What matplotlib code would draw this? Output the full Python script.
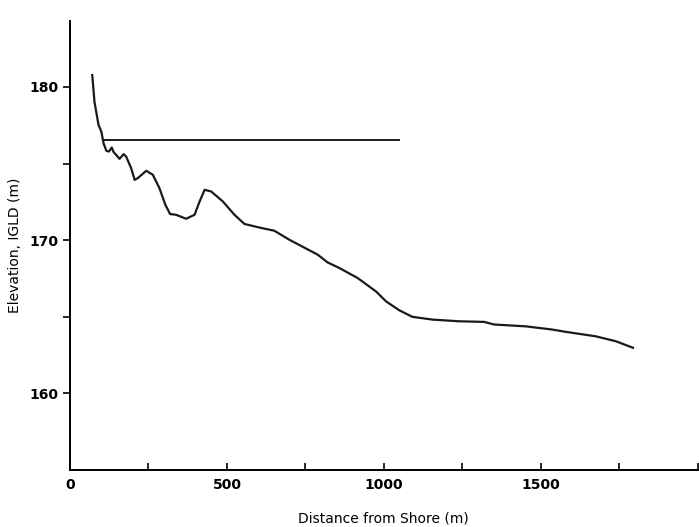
import matplotlib.pyplot as plt

# profile
dist = [71, 78, 91, 100, 107, 116, 124, 133, 139, 147, 158, 171, 179, 195, 206,
        216, 243, 264, 285, 304, 319, 338, 370, 397, 413, 429, 450, 487, 524,
        556, 603, 651, 699, 789, 821, 858, 916, 975, 1007, 1049, 1091, 1155,
        1240, 1320, 1351, 1452, 1537, 1580, 1675, 1739, 1794]
elev = [180.78, 179.04, 177.52, 177.09, 176.33, 175.83, 175.79, 176.05, 175.75,
        175.57, 175.31, 175.62, 175.46, 174.70, 173.94, 174.05, 174.53, 174.27,
        173.40, 172.31, 171.71, 171.66, 171.40, 171.66, 172.53, 173.29, 173.18,
        172.53, 171.66, 171.06, 170.83, 170.62, 170.03, 169.06, 168.55, 168.19,
        167.54, 166.66, 166.01, 165.43, 165.00, 164.82, 164.71, 164.67, 164.50,
        164.38, 164.17, 164.02, 163.73, 163.41, 162.98]

water_x = [110, 1049]
water_y = [176.55, 176.55]

plt.rcParams["font.family"] = ["DejaVu Sans"]

fig = plt.figure(figsize=(6.99, 5.27), dpi=100)
ax = fig.add_axes([0.1001, 0.108, 0.898, 0.852])

ax.plot(dist, elev, color="#1a1a1a", linewidth=1.6)
ax.plot(water_x, water_y, color="#1a1a1a", linewidth=1.4)

ax.set_xlim(0, 2000)
ax.set_ylim(155, 184.3)

ax.spines["top"].set_visible(False)
ax.spines["right"].set_visible(False)
ax.spines["left"].set_linewidth(1.4)
ax.spines["bottom"].set_linewidth(1.4)

ax.set_xticks([0, 500, 1000, 1500])
ax.set_xticks([250, 750, 1250, 1750, 2000], minor=True)
ax.set_yticks([160, 170, 180])
ax.set_yticks([165, 175], minor=True)

ax.tick_params(axis="x", which="both", direction="in", length=5, width=1.2,
               labelsize=10, pad=6)
ax.tick_params(axis="y", which="both", direction="out", length=5, width=1.2,
               labelsize=10)
for lab in ax.get_xticklabels() + ax.get_yticklabels():
    lab.set_fontweight("bold")

ax.set_xlabel("Distance from Shore (m)", fontsize=10, labelpad=14)
ax.set_ylabel("Elevation, IGLD (m)", fontsize=10, va="center")
ax.yaxis.set_label_coords(-0.088, 0.5)

plt.savefig("out.png", dpi=100)
